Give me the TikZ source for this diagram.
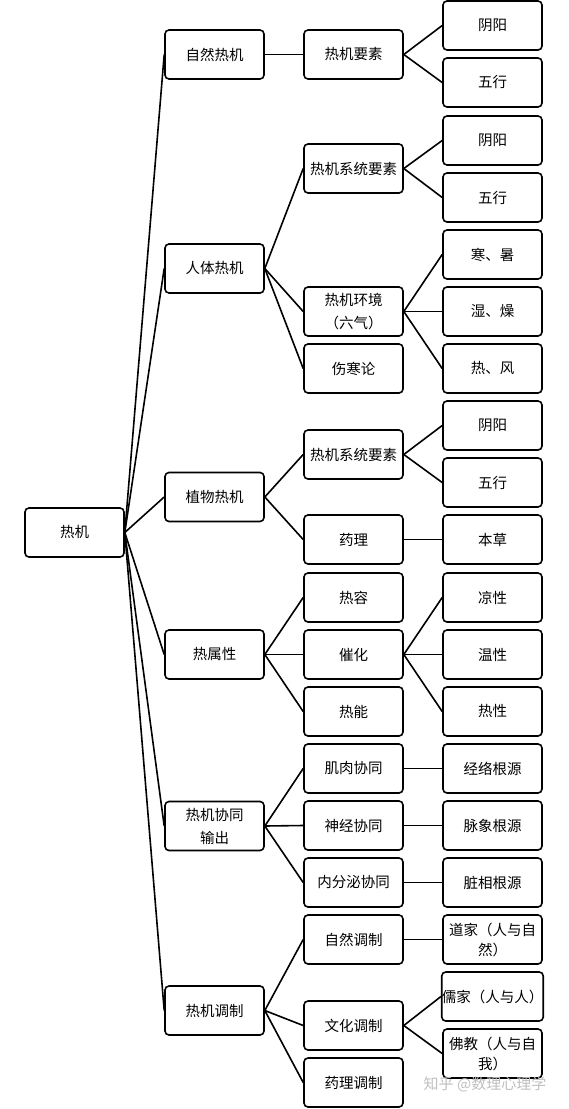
\documentclass[tikz,border=0pt]{standalone}
\usepackage{fontspec}
\setmainfont{Noto Sans CJK SC}
\begin{document}
\begin{tikzpicture}[x=1pt,y=-1pt,
  box/.style={draw,rounded corners=4pt,line width=1.6pt,minimum width=99pt,minimum height=49pt,
    inner sep=0pt,align=center,font=\fontsize{14.5}{23}\selectfont},
  link/.style={line width=1.6pt}]
\useasboundingbox (0,0) rectangle (569,1109);

%root
\node[box] (root) at (74.5,532.5) {热机};

%level 1
\node[box] (zr) at (214.5,54.5) {自然热机};
\node[box] (rt) at (214.5,268.5) {人体热机};
\node[box] (zw) at (214.5,497) {植物热机};
\node[box] (sx) at (214.5,654.5) {热属性};
\node[box] (xt) at (214.5,826) {热机协同\\输出};
\node[box] (tz) at (214.5,1010.5) {热机调制};

%level 2
\node[box] (zr1) at (353.5,54.5) {热机要素};
\node[box] (rt1) at (353.5,168.5) {热机系统要素};
\node[box] (rt2) at (353.5,311.5) {热机环境\\（六气）};
\node[box] (rt3) at (353.5,368.5) {伤寒论};
\node[box] (zw1) at (353.5,454.5) {热机系统要素};
\node[box] (zw2) at (353.5,539.5) {药理};
\node[box] (sx1) at (353.5,597.5) {热容};
\node[box] (sx2) at (353.5,654.5) {催化};
\node[box] (sx3) at (353.5,711.5) {热能};
\node[box] (xt1) at (353.5,768.5) {肌肉协同};
\node[box] (xt2) at (353.5,825.5) {神经协同};
\node[box] (xt3) at (353.5,882.5) {内分泌协同};
\node[box] (tz1) at (353.5,939.5) {自然调制};
\node[box] (tz2) at (353.5,1025.5) {文化调制};
\node[box] (tz3) at (353.5,1082.5) {药理调制};

%level 3
\node[box] (zr1a) at (492.5,25.5) {阴阳};
\node[box] (zr1b) at (492.5,82.5) {五行};
\node[box] (rt1a) at (492.5,140.5) {阴阳};
\node[box] (rt1b) at (492.5,197.5) {五行};
\node[box] (rt2a) at (492.5,254.5) {寒、暑};
\node[box] (rt2b) at (492.5,311.5) {湿、燥};
\node[box] (rt2c) at (492.5,368.5) {热、风};
\node[box] (zw1a) at (492.5,425.5) {阴阳};
\node[box] (zw1b) at (492.5,482.5) {五行};
\node[box] (zw2a) at (492.5,539.5) {本草};
\node[box] (sx2a) at (492.5,597.5) {凉性};
\node[box] (sx2b) at (492.5,654.5) {温性};
\node[box] (sx2c) at (492.5,711.5) {热性};
\node[box] (xt1a) at (492.5,768.5) {经络根源};
\node[box] (xt2a) at (492.5,825.5) {脉象根源};
\node[box] (xt3a) at (492.5,882.5) {脏相根源};
\node[box,font=\fontsize{14.5}{20}\selectfont] (tz1a) at (492.5,939.5) {道家（人与自\\然）};
\node[box] (tz2a) at (492.5,996.5) {儒家（人与人）};
\node[box,font=\fontsize{14.5}{20}\selectfont] (tz2b) at (492.5,1053.5) {佛教（人与自\\我）};

%links
\foreach \c in {zr,rt,zw,sx,xt,tz}
  \draw[link] (root.east) -- (\c.west);
\foreach \p/\c in {zr/zr1,rt/rt1,rt/rt2,rt/rt3,zw/zw1,zw/zw2,sx/sx1,sx/sx2,sx/sx3,
    xt/xt1,xt/xt2,xt/xt3,tz/tz1,tz/tz2,tz/tz3}
  \draw[link] (\p.east) -- (\c.west);
\foreach \p/\c in {zr1/zr1a,zr1/zr1b,rt1/rt1a,rt1/rt1b,rt2/rt2a,rt2/rt2b,rt2/rt2c,
    zw1/zw1a,zw1/zw1b,zw2/zw2a,sx2/sx2a,sx2/sx2b,sx2/sx2c,xt1/xt1a,xt2/xt2a,xt3/xt3a,
    tz1/tz1a,tz2/tz2a,tz2/tz2b}
  \draw[link] (\p.east) -- (\c.west);

%watermark
\node[text=black!25,font=\fontsize{15}{15}\selectfont] (wm) at (485,1084) {知乎 @数理心理学};

\end{tikzpicture}
\end{document}
